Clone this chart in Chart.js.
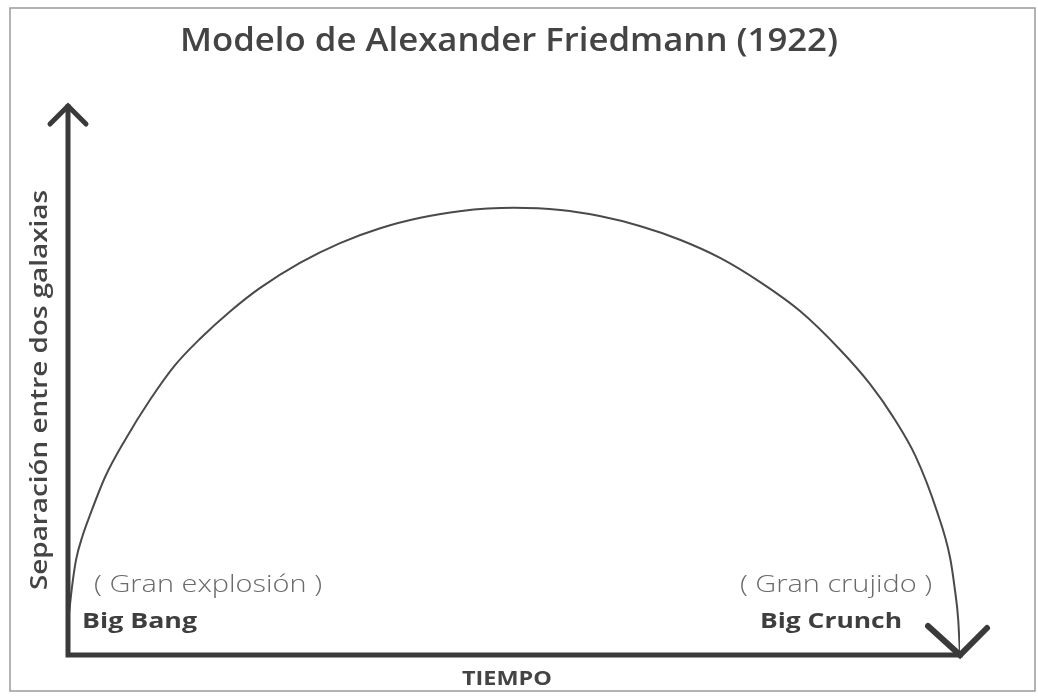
<!DOCTYPE html>
<html lang="es">
<head>
    <meta charset="UTF-8">
    <style>
        html, body {
            margin: 0;
            padding: 0;
            background: #ffffff;
        }
        #wrap {
            width: 1038px;
            height: 698px;
            position: relative;
        }
    </style>
    <script src="https://cdn.jsdelivr.net/npm/chart.js"></script>
</head>
<body>
    <div id="wrap">
        <canvas id="friedmann" width="1038" height="698"></canvas>
    </div>

    <script>
        // valores (tiempo 0-100, separacion 0-100)
        const tiempo = [0.1, 0.45, 0.9, 1.6, 2.5, 4.2, 6.4, 9.2, 12.0, 14.8, 18.2, 21.5, 26.0, 30.5, 35.0, 39.5, 43.9, 50.0, 55.2, 59.6, 64.1, 68.6, 73.1, 77.6, 82.1, 86.5, 89.9, 92.5, 95.0, 97.4, 98.9, 99.4, 99.8, 100];
        const separacion = [7.3, 12.4, 17.3, 21.5, 25.6, 32.5, 39.1, 46.4, 52.7, 57.5, 62.5, 66.7, 71.3, 74.9, 77.6, 79.5, 80.7, 81.3, 80.9, 79.8, 78.0, 75.5, 72.2, 67.8, 62.5, 55.6, 49.3, 43.3, 36.2, 26.2, 17.6, 12.2, 6.4, 0];

        const titulo = 'Modelo de Alexander Friedmann (1922)';
        const ejeX = 'TIEMPO';
        const ejeY = 'Separación entre dos galaxias';

        const puntos = tiempo.map((t, i) => ({ x: t, y: separacion[i] }));

        const fontName = '"Open Sans", Lato, sans-serif';
        const ink = '#3a3a3a';

        // texto estirado a lo ancho (la fuente original es muy ancha)
        function texto(c, str, x, y, ancho, align) {
            const w = c.measureText(str).width;
            const sx = ancho / w;
            c.save();
            c.translate(x, y);
            c.scale(sx, 1);
            c.textAlign = align;
            c.fillText(str, 0, 0);
            c.restore();
        }

        const dibujo = {
            id: 'dibujo',
            beforeDraw(chart) {
                const c = chart.ctx;
                c.save();
                c.fillStyle = '#ffffff';
                c.fillRect(0, 0, chart.width, chart.height);
                c.strokeStyle = '#9a9a9a';
                c.lineWidth = 1.5;
                c.strokeRect(10, 8, 1025, 683);
                c.restore();
            },
            afterDatasetsDraw(chart) {
                const c = chart.ctx;
                const xs = chart.scales.x, ys = chart.scales.y;
                const x0 = xs.getPixelForValue(0), x1 = xs.getPixelForValue(100);
                const y0 = ys.getPixelForValue(0), y1 = ys.getPixelForValue(100);

                c.save();
                c.strokeStyle = ink;
                c.lineCap = 'square';
                c.lineWidth = 5;
                // ejes
                c.beginPath();
                c.moveTo(x0, y1 + 2);
                c.lineTo(x0, y0);
                c.lineTo(x1, y0);
                c.stroke();
                // flecha arriba
                c.lineWidth = 5;
                c.lineCap = 'round';
                c.beginPath();
                c.moveTo(x0 - 18, y1 + 19);
                c.lineTo(x0, y1 + 1);
                c.lineTo(x0 + 18, y1 + 19);
                c.stroke();
                // flecha abajo al final
                c.lineWidth = 6;
                c.beginPath();
                c.moveTo(x1 - 32, y0 - 29);
                c.lineTo(x1, y0);
                c.lineTo(x1 + 27, y0 - 27);
                c.stroke();

                // textos
                c.fillStyle = '#444';
                c.textBaseline = 'middle';
                c.font = '600 33px ' + fontName;
                texto(c, titulo, 509, 42, 658, 'center');

                c.font = 'bold 19px ' + fontName;
                texto(c, ejeX, 507, 680, 90, 'center');

                c.save();
                c.translate(40, 390);
                c.rotate(-Math.PI / 2);
                c.font = '600 24px ' + fontName;
                texto(c, ejeY, 0, 0, 400, 'center');
                c.restore();

                c.fillStyle = '#6a6a6a';
                c.font = '300 23px ' + fontName;
                texto(c, '( Gran explosión )', 94, 585, 228, 'left');
                texto(c, '( Gran crujido )', 740, 585, 192, 'left');

                c.fillStyle = '#3e3e3e';
                c.font = 'bold 22px ' + fontName;
                texto(c, 'Big Bang', 82, 622, 115, 'left');
                texto(c, 'Big Crunch', 760, 622, 142, 'left');
                c.restore();
            }
        };

        const ctx = document.getElementById('friedmann').getContext('2d');
        new Chart(ctx, {
            type: 'scatter',
            data: {
                datasets: [{
                    data: puntos,
                    showLine: true,
                    borderColor: '#4a4a4a',
                    borderWidth: 2,
                    pointRadius: 0,
                    cubicInterpolationMode: 'monotone',
                    fill: false
                }]
            },
            options: {
                responsive: false,
                animation: false,
                layout: {
                    padding: { left: 68, right: 78, top: 105, bottom: 43 }
                },
                plugins: {
                    legend: { display: false },
                    tooltip: { enabled: false },
                    title: { display: false }
                },
                scales: {
                    x: { type: 'linear', min: 0, max: 100, display: false },
                    y: { type: 'linear', min: 0, max: 100, display: false }
                }
            },
            plugins: [dibujo]
        });
    </script>
</body>
</html>
